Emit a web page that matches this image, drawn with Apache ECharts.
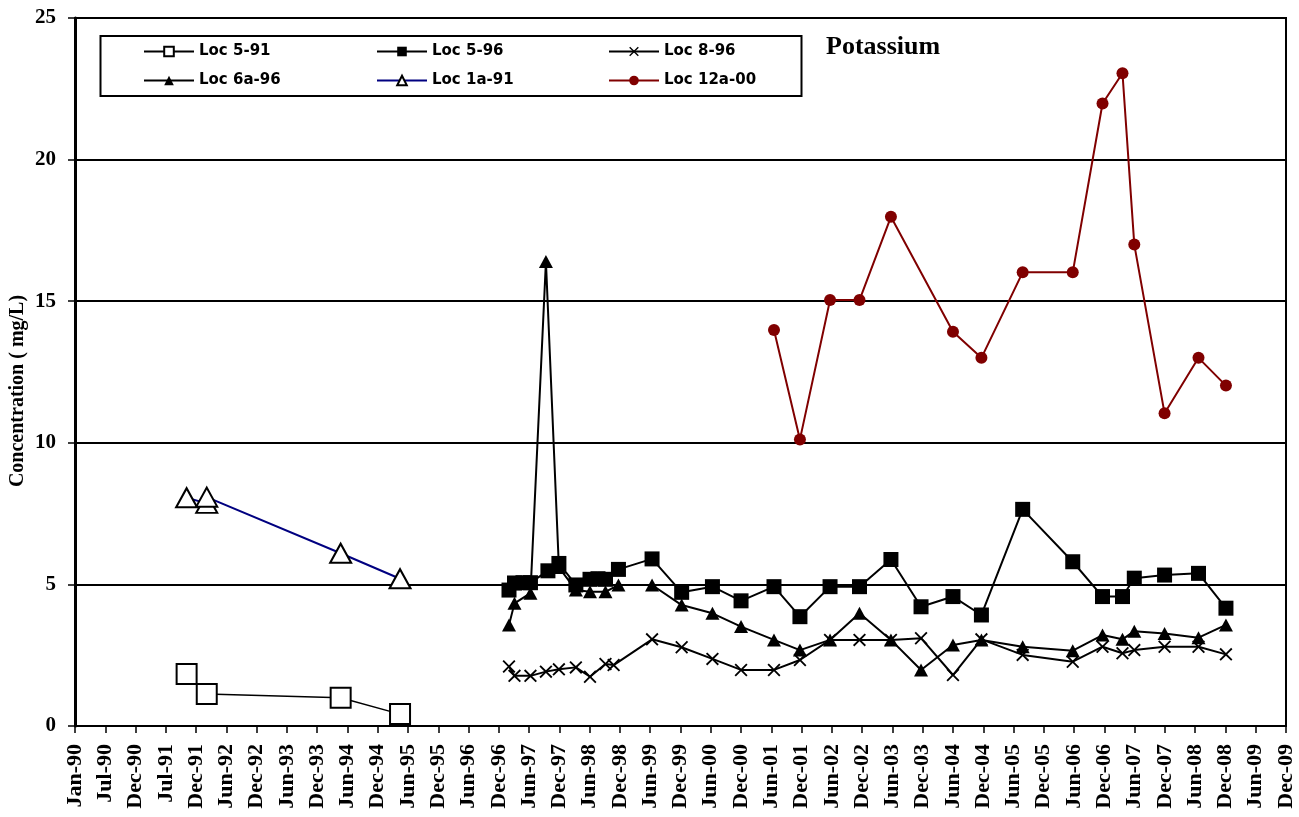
<!DOCTYPE html>
<html>
<head>
<meta charset="utf-8">
<script src="https://cdn.jsdelivr.net/npm/echarts@6/dist/echarts.min.js"></script>
<style>
html,body{margin:0;padding:0;background:#fff;}
#chart{width:1299px;height:817px;}
</style>
</head>
<body>
<div id="chart"></div>
<script>
// ---- data ----
const seriesNames = ['Loc 5-91','Loc 5-96','Loc 8-96','Loc 6a-96','Loc 1a-91','Loc 12a-00'];
const monthNames = ['Jan','Feb','Mar','Apr','May','Jun','Jul','Aug','Sep','Oct','Nov','Dec'];

const loc591Dates = ['1991-11-03','1992-03-03','1994-05-17','1995-05-09'];
const loc591Vals  = [1.84, 1.13, 1.0, 0.42];

const loc1a91Dates = ['1991-11-03','1992-03-03','1992-03-03','1994-05-17','1995-05-09'];
const loc1a91Vals  = [8.06, 7.86, 8.08, 6.1, 5.2];

const loc596Dates = ['1997-02-22','1997-03-27','1997-05-17','1997-07-01','1997-10-14','1997-12-19',
  '1998-03-31','1998-06-24','1998-08-11','1998-09-25','1998-12-12','1999-07-02','1999-12-27',
  '2000-06-29','2000-12-18','2001-07-04','2001-12-07','2002-06-06','2002-11-30','2003-06-07',
  '2003-12-05','2004-06-14','2004-12-02','2005-08-07','2006-06-04','2006-11-30','2007-03-30',
  '2007-06-09','2007-12-08','2008-06-29','2008-12-11'];
const loc596Vals = [4.8,5.05,5.06,5.06,5.48,5.74,
  4.98,5.18,5.2,5.18,5.53,5.9,4.72,
  4.92,4.42,4.92,3.86,4.92,4.92,5.88,
  4.21,4.57,3.92,7.65,5.8,4.57,4.57,
  5.22,5.33,5.39,4.16];

const loc6a96Dates = ['1997-02-22','1997-03-27','1997-07-01','1997-10-02','1997-12-19',
  '1998-03-31','1998-06-24','1998-09-25','1998-12-12','1999-07-02','1999-12-27',
  '2000-06-29','2000-12-18','2001-07-04','2001-12-07','2002-06-06','2002-11-30','2003-06-07',
  '2003-12-05','2004-06-14','2004-12-02','2005-08-07','2006-06-04','2006-11-30','2007-03-30',
  '2007-06-09','2007-12-08','2008-06-29','2008-12-11'];
const loc6a96Vals = [3.57,4.33,4.69,16.4,5.6,
  4.8,4.74,4.74,4.98,4.98,4.27,
  3.98,3.51,3.04,2.68,3.04,3.98,3.04,
  1.98,2.86,3.04,2.80,2.66,3.21,3.06,
  3.35,3.27,3.12,3.57];

const loc896Dates = ['1997-02-22','1997-03-27','1997-07-01','1997-10-02','1997-12-19',
  '1998-03-31','1998-06-24','1998-09-25','1998-11-13','1999-07-02','1999-12-27',
  '2000-06-29','2000-12-18','2001-07-04','2001-12-07','2002-06-06','2002-11-30','2003-06-07',
  '2003-12-05','2004-06-14','2004-12-02','2005-08-07','2006-06-04','2006-11-30','2007-03-30',
  '2007-06-09','2007-12-08','2008-06-29','2008-12-11'];
const loc896Vals = [2.10,1.77,1.77,1.92,2.0,
  2.07,1.74,2.19,2.15,3.06,2.78,
  2.37,1.98,1.98,2.33,3.04,3.04,3.04,
  3.10,1.80,3.06,2.51,2.27,2.80,2.57,
  2.68,2.80,2.80,2.53];

const loc12a00Dates = ['2001-07-04','2001-12-07','2002-06-06','2002-11-30','2003-06-07',
  '2004-06-14','2004-12-02','2005-08-07','2006-06-04','2006-11-30','2007-03-30',
  '2007-06-09','2007-12-08','2008-06-29','2008-12-11'];
const loc12a00Vals = [13.98,10.12,15.04,15.04,17.98,
  13.92,13.0,16.02,16.02,21.98,23.05,
  17.0,11.04,13.0,12.02];

const yTicks = [0,5,10,15,20,25];
const xStartDate = '1990-01-01';
const xTickStepDays = 182;
const xTickCount = 40;

// ---- helpers ----
const DAY = 86400000;
function toUTC(s){ const p = s.split('-').map(Number); return Date.UTC(p[0], p[1]-1, p[2]); }
const base = toUTC(xStartDate);
function dayIndex(s){ return Math.round((toUTC(s) - base) / DAY); }
function pairs(dates, vals){ return dates.map((d,i)=>[dayIndex(d), vals[i]]); }
function fmtDay(v){
  const d = new Date(base + v*DAY);
  return monthNames[d.getUTCMonth()] + '-' + String(d.getUTCFullYear()).slice(2);
}

const chart = echarts.init(document.getElementById('chart'), null, {renderer:'canvas'});
const serifBold = {fontFamily:'"Liberation Serif","Times New Roman",serif', fontWeight:'bold', color:'#000'};
const crossPath = 'path://M0,1 L1,0 L5,4 L9,0 L10,1 L6,5 L10,9 L9,10 L5,6 L1,10 L0,9 L4,5 Z';

const legendCols = [143, 376, 608];
const legendRows = [44, 73];
const legends = seriesNames.map((n,i)=>({
  data:[n],
  left: legendCols[i%3],
  top: legendRows[Math.floor(i/3)],
  padding:0,
  itemWidth:50,
  itemHeight:12,
  selectedMode:false,
  textStyle:{fontFamily:'"DejaVu Sans",sans-serif', fontWeight:'bold', fontSize:15, color:'#000'}
}));

const option = {
  animation:false,
  backgroundColor:'#fff',
  title:{
    text:'Potassium', left:826, top:34, padding:0,
    textStyle:Object.assign({fontSize:26}, serifBold)
  },
  legend: legends,
  grid:{left:75, right:13, top:18, bottom:91, show:true, borderColor:'#000', borderWidth:2, backgroundColor:'transparent'},
  graphic:[
    {type:'rect', shape:{x:100.5, y:36, width:701, height:60}, style:{fill:'#fff', stroke:'#000', lineWidth:2}, z:1},
    {type:'text', x:18, y:391, rotation:Math.PI/2,
     style:Object.assign({text:'Concentration ( mg/L)', fontSize:20, align:'center', verticalAlign:'middle',
       fill:'#000', fontFamily:'"Liberation Serif","Times New Roman",serif', fontWeight:'bold'})}
  ],
  xAxis:{
    type:'value', min:0, max:xTickStepDays*xTickCount, interval:xTickStepDays,
    axisLine:{show:true, onZero:false, lineStyle:{color:'#000', width:2}},
    axisTick:{show:true, inside:false, length:7, lineStyle:{color:'#000', width:1.5}},
    splitLine:{show:false},
    axisLabel:Object.assign({rotate:90, fontSize:22, margin:18, formatter:fmtDay, showMinLabel:true, showMaxLabel:true}, serifBold)
  },
  yAxis:{
    type:'value', min:yTicks[0], max:yTicks[yTicks.length-1], interval:yTicks[1]-yTicks[0],
    axisLine:{show:true, lineStyle:{color:'#000', width:3}},
    axisTick:{show:true, inside:false, length:7, lineStyle:{color:'#000', width:1.5}},
    splitLine:{show:true, lineStyle:{color:'#000', width:2}},
    axisLabel:Object.assign({fontSize:21, margin:19}, serifBold)
  },
  series:[
    {name:'Loc 5-91', type:'line', data:pairs(loc591Dates, loc591Vals),
     symbol:'emptyRect', symbolSize:20, lineStyle:{color:'#000', width:1.5},
     itemStyle:{color:'#000', borderColor:'#000', borderWidth:2}},
    {name:'Loc 5-96', type:'line', data:pairs(loc596Dates, loc596Vals),
     symbol:'rect', symbolSize:15, lineStyle:{color:'#000', width:2},
     itemStyle:{color:'#000'}},
    {name:'Loc 8-96', type:'line', data:pairs(loc896Dates, loc896Vals),
     symbol:crossPath, symbolSize:13, lineStyle:{color:'#000', width:2},
     itemStyle:{color:'#000'}},
    {name:'Loc 6a-96', type:'line', data:pairs(loc6a96Dates, loc6a96Vals),
     symbol:'triangle', symbolSize:[14,13], lineStyle:{color:'#000', width:2},
     itemStyle:{color:'#000'}},
    {name:'Loc 1a-91', type:'line', data:pairs(loc1a91Dates, loc1a91Vals),
     symbol:'emptyTriangle', symbolSize:[21,19], lineStyle:{color:'#000080', width:2},
     itemStyle:{color:'#000', borderColor:'#000', borderWidth:2}},
    {name:'Loc 12a-00', type:'line', data:pairs(loc12a00Dates, loc12a00Vals),
     symbol:'circle', symbolSize:12, lineStyle:{color:'#800000', width:2},
     itemStyle:{color:'#800000'}}
  ]
};
chart.setOption(option);
</script>
</body>
</html>
